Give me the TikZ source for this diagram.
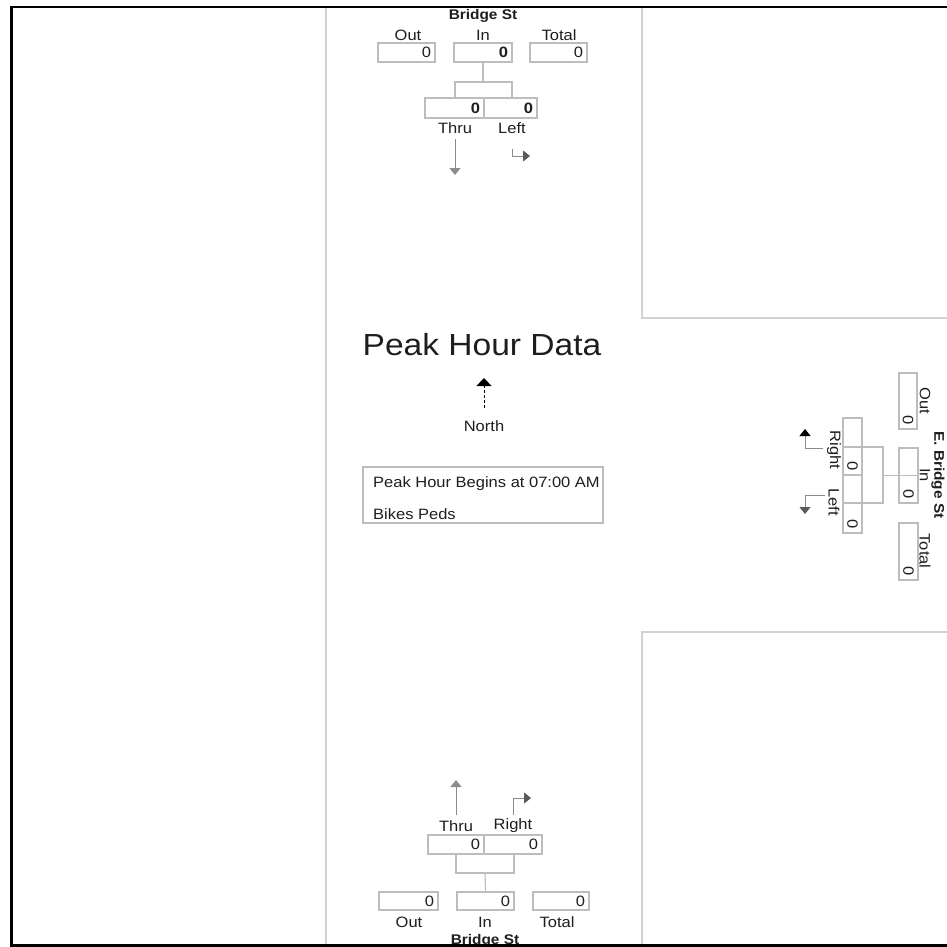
\documentclass[tikz,border=0pt]{standalone}
\usepackage{fontspec}
\setmainfont{Liberation Sans}[FakeStretch=1.1]
\usetikzlibrary{arrows.meta}
\definecolor{boxgray}{HTML}{BDBDBD}
\definecolor{linegray}{HTML}{D2D2D2}
\definecolor{txt}{HTML}{1E1E1E}
\definecolor{arrgray}{HTML}{8C8C8C}
\definecolor{arrdark}{HTML}{5A5A5A}
\begin{document}
\begin{tikzpicture}[x=1pt,y=-1pt,
  every node/.style={text=txt, inner sep=0pt},
  vbox/.style={draw=boxgray, line width=1.3pt, minimum height=19pt, align=right,
    inner xsep=4pt, text width=#1, font=\fontsize{15}{17}\selectfont},
  lbl/.style={font=\fontsize{15}{17}\selectfont},
  street/.style={font=\bfseries\fontsize{14}{16}\selectfont},
  conn/.style={draw=boxgray, line width=1.2pt},
  sep/.style={draw=linegray, line width=1.8pt},
  mv/.style={draw=arrgray, line width=0.8pt},
  tiplight/.style={-{Triangle[width=11pt,length=7pt,color=arrgray]}},
  tipdark/.style={-{Triangle[width=11pt,length=7pt,color=arrdark]}},
  tipblack/.style={-{Triangle[width=11pt,length=7pt,color=black]}}
]
\useasboundingbox (0,0) rectangle (946,947);

% separators
\coordinate (s1) at (326,6);
\coordinate (s2) at (326,944);
\draw[sep] (s1) -- (s2);
\coordinate (r1) at (642,6);
\coordinate (r2) at (642,318);
\coordinate (r3) at (960,318);
\draw[sep] (r1) -- (r2) -- (r3);
\coordinate (q1) at (642,944);
\coordinate (q2) at (642,632);
\coordinate (q3) at (960,632);
\draw[sep] (q1) -- (q2) -- (q3);

% ---------- top approach ----------
\node[street] (tname) at (483,16) {Bridge St};
\node[lbl] (toutl) at (408,35) {Out};
\node[lbl] (tinl) at (483,35) {In};
\node[lbl] (ttotl) at (559,35) {Total};
\node[vbox=49pt] (tout) at (406.5,52.5) {0};
\node[vbox=50pt] (tin) at (483,52.5) {\bfseries 0};
\node[vbox=49pt] (ttot) at (558.5,52.5) {0};
\node[vbox=51pt, minimum height=20pt] (tthru) at (454.5,108) {\bfseries 0};
\node[vbox=45pt, minimum height=20pt] (tleft) at (510.5,108) {\bfseries 0};
\node[lbl] (tthrul) at (455,128) {Thru};
\node[lbl] (tleftl) at (512,128) {Left};
\coordinate (tb) at (483,82);
\coordinate (tb1) at (455,82);
\coordinate (tb2) at (512,82);
\draw[conn] (tin.south) -- (tb);
\draw[conn] (tb1 |- tthru.north) -- (tb1) -- (tb2) -- (tb2 |- tleft.north);
\coordinate (ta1) at (455,139);
\coordinate (ta2) at (455,175);
\draw[mv, tiplight] (ta1) -- (ta2);
\coordinate (tl1) at (512,149);
\coordinate (tl2) at (530,156);
\draw[mv, tipdark] (tl1) |- (tl2);

% ---------- bottom approach ----------
\coordinate (ba1) at (456,815);
\coordinate (ba2) at (456,780);
\draw[mv, tiplight] (ba1) -- (ba2);
\coordinate (br1) at (513,815);
\coordinate (br2) at (531,798);
\draw[mv, tipdark] (br1) |- (br2);
\node[lbl] (bthrul) at (456,826) {Thru};
\node[lbl] (brightl) at (513,826) {Right};
\node[vbox=48pt] (bthru) at (456,844.5) {0};
\node[vbox=50pt] (bright) at (513,844.5) {0};
\coordinate (bb) at (485,873);
\coordinate (bb1) at (456,873);
\coordinate (bb2) at (514,873);
\draw[conn] (bb1 |- bthru.south) -- (bb1) -- (bb2) -- (bb2 |- bright.south);
\node[vbox=51pt, minimum height=18pt] (bout) at (408.5,901) {0};
\node[vbox=49pt, minimum height=18pt] (bin) at (485.5,901) {0};
\node[vbox=48pt, minimum height=18pt] (btot) at (561,901) {0};
\draw[conn] (bb) -- (bin.north);
\node[lbl] (boutl) at (409,922) {Out};
\node[lbl] (binl) at (485,922) {In};
\node[lbl] (btotl) at (557,922) {Total};
\node[street, anchor=base] (bname) at (485,944) {Bridge St};

% ---------- east approach ----------
\node[street, rotate=-90] (ename) at (938,475) {E. Bridge St};
\node[lbl, rotate=-90] (eoutl) at (925,401) {Out};
\node[lbl, rotate=-90] (einl) at (925,475) {In};
\node[lbl, rotate=-90] (etotl) at (925,551) {Total};
\node[vbox=48pt, minimum height=18pt, rotate=-90] (eout) at (908,401) {0};
\node[vbox=47pt, rotate=-90] (ein) at (908.5,475.5) {0};
\node[vbox=49pt, rotate=-90] (etot) at (908.5,551.5) {0};
\node[vbox=49pt, rotate=-90] (eright) at (852.5,446.5) {0};
\node[vbox=50pt, rotate=-90] (eleft) at (852.5,504) {0};
\coordinate (eb) at (883,475.5);
\coordinate (eb1) at (883,447);
\coordinate (eb2) at (883,503);
\draw[conn] (ein.north) -- (eb);
\draw[conn] (eb1 -| eright.south) -- (eb1) -- (eb2) -- (eb2 -| eleft.south);
\node[lbl, rotate=-90] (erightl) at (834,450) {Right};
\node[lbl, rotate=-90] (eleftl) at (834,502) {Left};
\coordinate (er1) at (823,448);
\coordinate (er2) at (805,429);
\draw[mv, tipblack] (er1) -| (er2);
\coordinate (el1) at (825,495);
\coordinate (el2) at (805,514);
\draw[mv, tipdark] (el1) -| (el2);

% ---------- centre ----------
\node[font=\fontsize{30.5}{34}\selectfont] (title) at (482,345) {Peak Hour Data};
\coordinate (nb) at (484,408);
\coordinate (nt) at (484,378);
\draw[line width=0.8pt, dash pattern=on 3pt off 2pt,
  -{Triangle[width=15pt,length=8pt,color=black]}] (nb) -- (nt);
\node[lbl] (north) at (484,426) {North};
\node[draw=boxgray, line width=1.3pt, minimum width=240pt, minimum height=56pt] (info) at (483,495) {};
\node[lbl, anchor=base west] (begins) at (373,487) {Peak Hour Begins at 07:00 AM};
\node[lbl, anchor=base west] (bikes) at (373,519) {Bikes Peds};

% outer border
\node[draw=black, line width=2.5pt, minimum width=960pt, minimum height=938pt, anchor=north west] (frame) at (10,6) {};
\end{tikzpicture}
\end{document}
